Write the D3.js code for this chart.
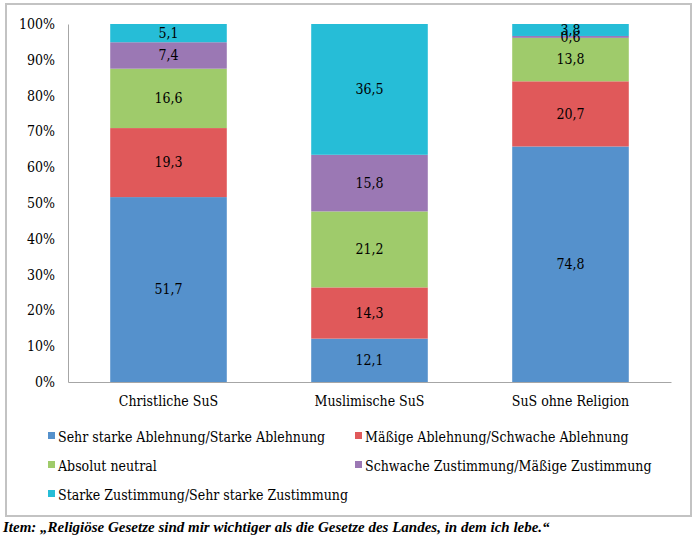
<!DOCTYPE html>
<html><head><meta charset="utf-8">
<script src="https://cdn.jsdelivr.net/npm/d3@7"></script>
<style>body{margin:0;background:#fff}svg{display:block}</style>
</head><body>
<svg id="c" width="697" height="539"></svg>
<script>
const categories = ["Christliche SuS", "Muslimische SuS", "SuS ohne Religion"];
const seriesNames = ["Sehr starke Ablehnung/Starke Ablehnung", "Mäßige Ablehnung/Schwache Ablehnung", "Absolut neutral", "Schwache Zustimmung/Mäßige Zustimmung", "Starke Zustimmung/Sehr starke Zustimmung"];
const sehrStarkeAblehnung = [51.7, 12.1, 74.8];
const maessigeAblehnung = [19.3, 14.3, 20.7];
const absolutNeutral = [16.6, 21.2, 13.8];
const schwacheZustimmung = [7.4, 15.8, 0.6];
const starkeZustimmung = [5.1, 36.5, 3.8];
const colors = ["#5591cc", "#e0595a", "#9fcb6b", "#9b78b4", "#26bdd7"];
const yTicks = [0, 0.1, 0.2, 0.3, 0.4, 0.5, 0.6, 0.7, 0.8, 0.9, 1.0];
const caption = "Item: „Religiöse Gesetze sind mir wichtiger als die Gesetze des Landes, in dem ich lebe.“";

(function () {
const series = [sehrStarkeAblehnung, maessigeAblehnung, absolutNeutral, schwacheZustimmung, starkeZustimmung];
const svg = d3.select("#c");
const font = "'DejaVu Serif', serif";
const fs = 14;

function styleText(sel) {
  sel.attr("font-family", font).attr("font-size", fs).attr("font-stretch", "condensed").attr("fill", "#000");
}

svg.append("rect").attr("x", 6).attr("y", 4).attr("width", 685).attr("height", 512)
  .attr("fill", "none").attr("stroke", "#c3c3c3").attr("stroke-width", 2);

const pl = 68, pr = 671, pt = 24, pb = 382;
const x = d3.scaleBand().domain(categories).range([pl, pr]).paddingInner(0.42).paddingOuter(0.21);
const y = d3.scaleLinear().domain([0, 1]).range([pb, pt]);

const rows = categories.map((c, i) => {
  const total = d3.sum(series, s => s[i]);
  const o = {cat: c};
  series.forEach((s, k) => { o["s" + k] = s[i] / total; o["v" + k] = s[i]; });
  return o;
});
const stacked = d3.stack().keys(series.map((s, k) => "s" + k))(rows);

const g = svg.append("g");
stacked.forEach((layer, k) => {
  g.selectAll(null).data(layer).enter().append("rect")
    .attr("x", d => x(d.data.cat))
    .attr("width", x.bandwidth())
    .attr("y", d => y(d[1]))
    .attr("height", d => y(d[0]) - y(d[1]))
    .attr("fill", colors[k]);
});
stacked.forEach((layer, k) => {
  g.selectAll(null).data(layer).enter().append("text")
    .attr("x", d => x(d.data.cat) + x.bandwidth() / 2)
    .attr("y", d => (y(d[0]) + y(d[1])) / 2)
    .attr("dy", "0.35em")
    .attr("text-anchor", "middle")
    .call(styleText)
    .text(d => d3.format(".1f")(d.data["v" + k]).replace(".", ","));
});

const yAxis = d3.axisLeft(y).tickValues(yTicks).tickSize(0).tickPadding(13).tickFormat(d3.format(".0%"));
const ya = svg.append("g").attr("transform", `translate(${pl},0)`).call(yAxis);
ya.select(".domain").attr("stroke", "#a6a6a6");
ya.selectAll("text").call(styleText);

const xAxis = d3.axisBottom(x).tickSize(0).tickPadding(14);
const xa = svg.append("g").attr("transform", `translate(0,${pb})`).call(xAxis);
xa.select(".domain").attr("stroke", "#a6a6a6");
xa.selectAll("text").call(styleText);

const legPos = [[48, 437], [355, 437], [48, 466], [355, 466], [48, 495]];
seriesNames.forEach((n, k) => {
  const [lx, ly] = legPos[k];
  svg.append("rect").attr("x", lx).attr("y", ly - 5).attr("width", 7).attr("height", 7).attr("fill", colors[k]);
  svg.append("text").attr("x", lx + 10).attr("y", ly).attr("dy", "0.35em")
    .call(styleText).text(n);
});

svg.append("text").attr("x", 3).attr("y", 532)
  .attr("font-family", "'Liberation Serif', serif").attr("font-size", 15)
  .attr("font-weight", "bold").attr("font-style", "italic").attr("fill", "#000")
  .text(caption);
})();
</script>
</body></html>
